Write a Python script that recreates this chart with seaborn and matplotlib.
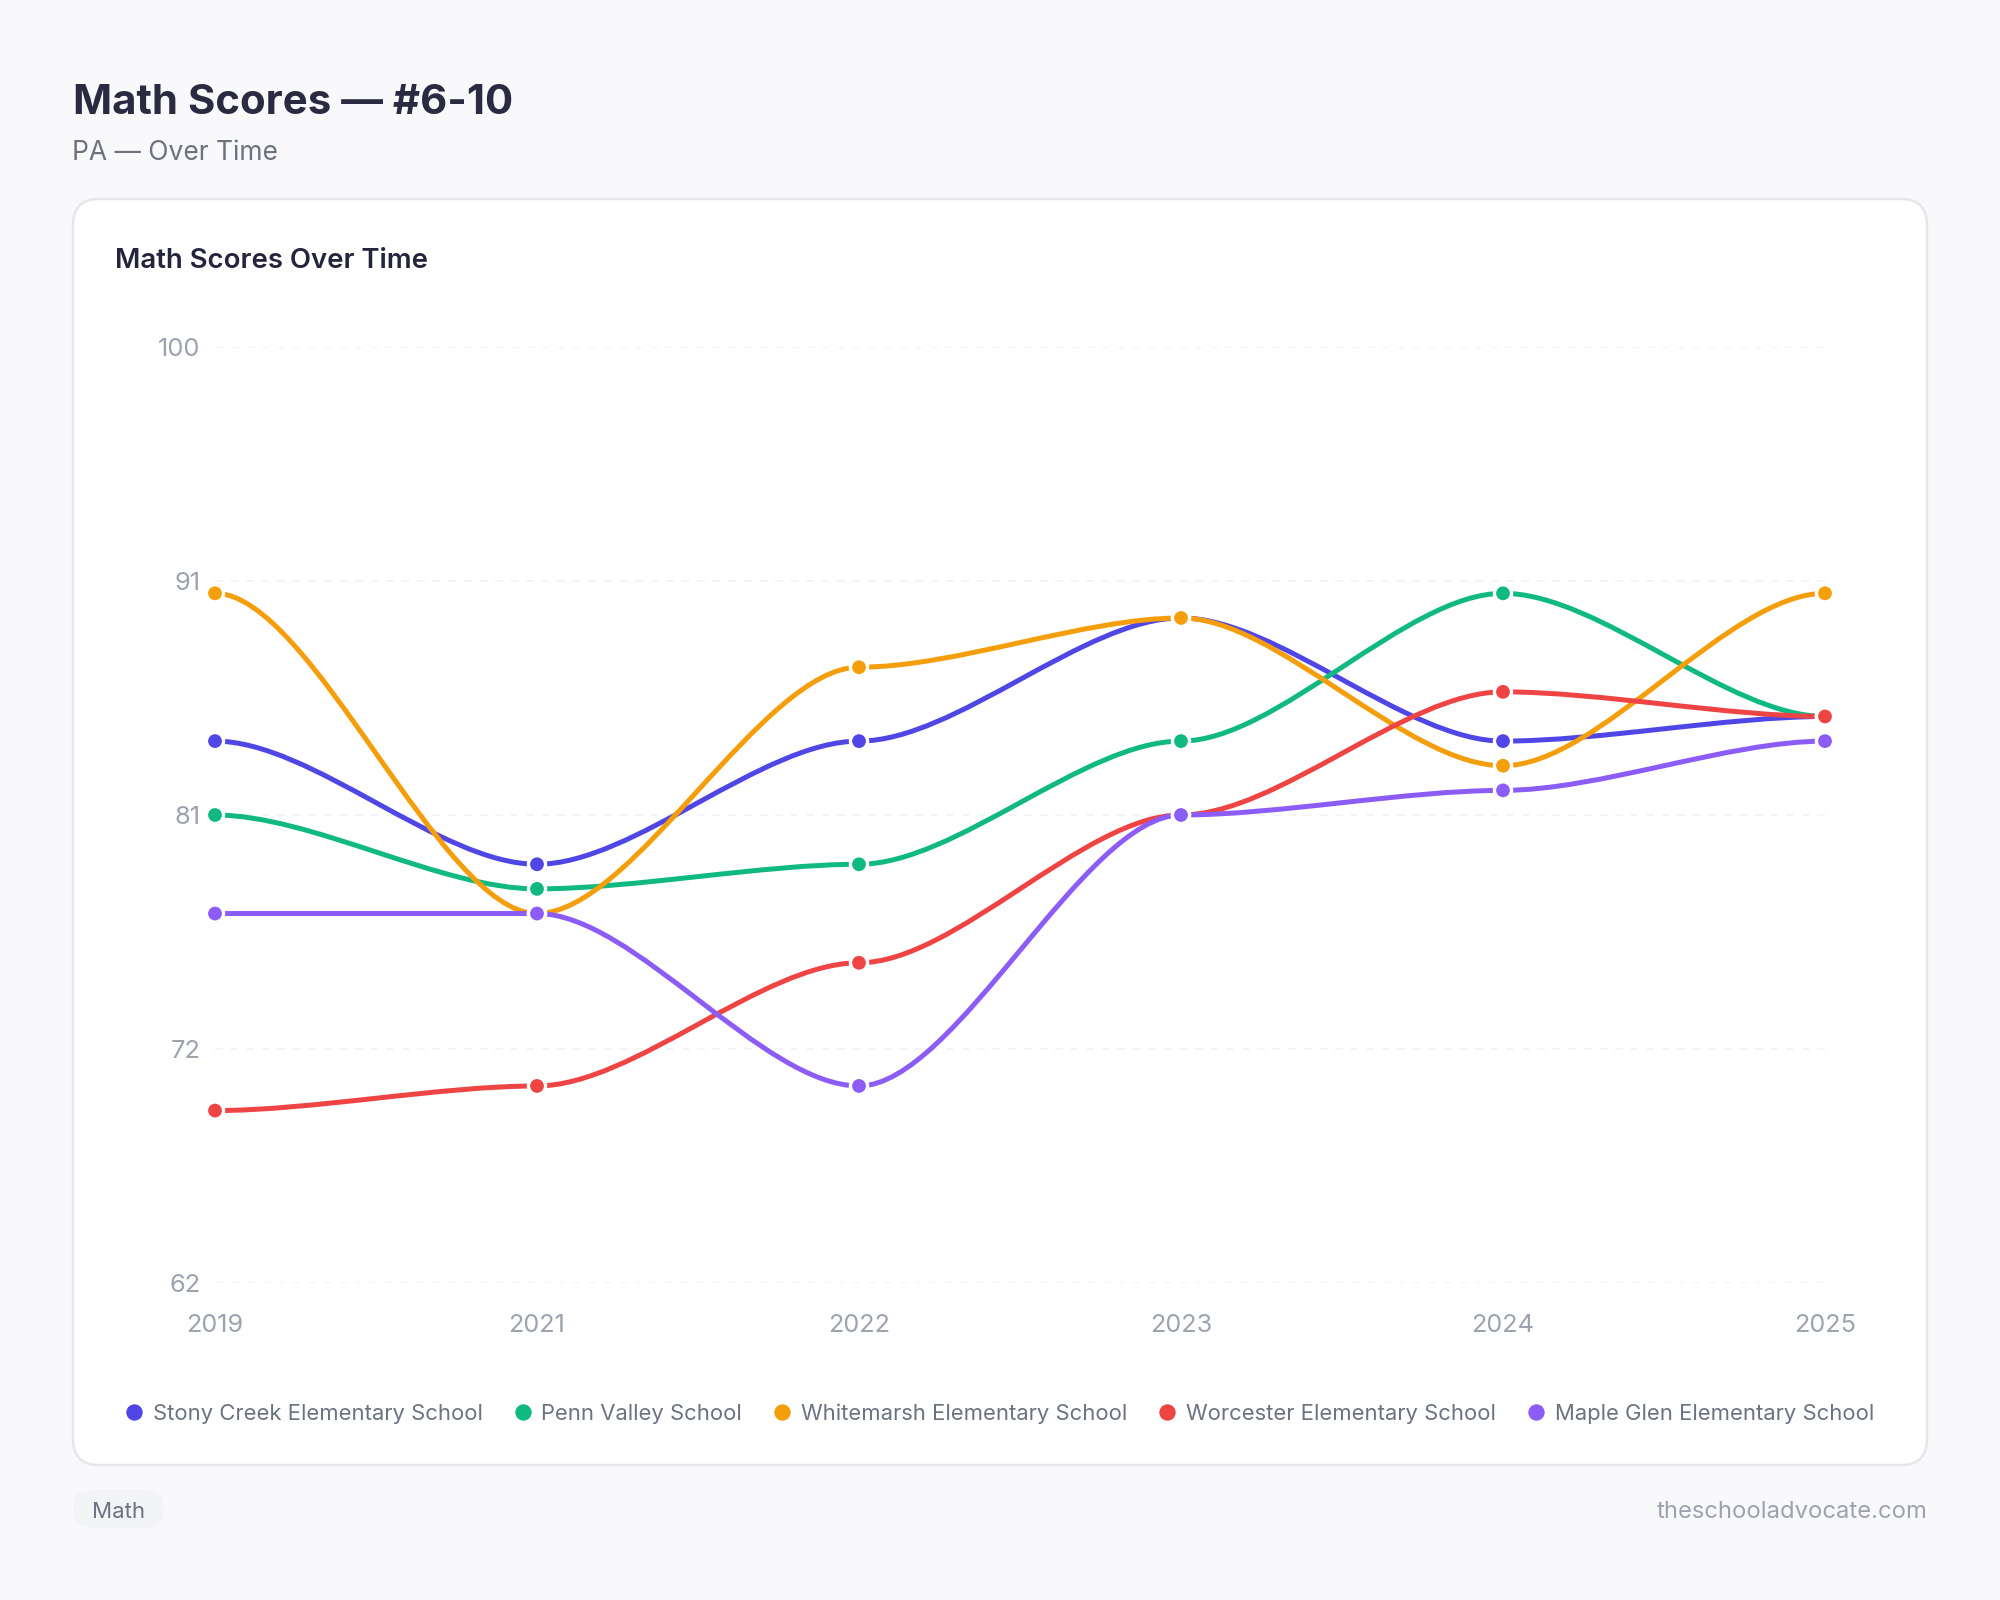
import pandas as pd
import matplotlib.pyplot as plt
import seaborn as sns
from matplotlib.lines import Line2D
from matplotlib.patches import FancyBboxPatch, PathPatch
from matplotlib.path import Path

# Data
years = ['2019', '2021', '2022', '2023', '2024', '2025']
stony_creek = [84, 79, 84, 89, 84, 85]
penn_valley = [81, 78, 79, 84, 90, 85]
whitemarsh = [90, 77, 87, 89, 83, 90]
worcester = [69, 70, 75, 81, 86, 85]
maple_glen = [77, 77, 70, 81, 82, 84]
schools = ['Stony Creek Elementary School', 'Penn Valley School',
           'Whitemarsh Elementary School', 'Worcester Elementary School',
           'Maple Glen Elementary School']
colors = ['#4f46e5', '#10b981', '#f59e0b', '#ef4444', '#8b5cf6']
y_ticks = [100, 90.5, 81, 71.5, 62]
y_tick_labels = ['100', '91', '81', '72', '62']

series = [stony_creek, penn_valley, whitemarsh, worcester, maple_glen]
df = pd.DataFrame({
    'year': years * len(schools),
    'score': sum(series, []),
    'school': [s for s in schools for _ in years],
})

W, H = 2000, 1600
BG = '#f9f9fb'

sns.set_style('white')
plt.rcParams['font.family'] = ['Inter', 'DejaVu Sans']
fig = plt.figure(figsize=(10, 8), dpi=200, facecolor=BG)


def px(x, y):
    return x / W, 1 - y / H


# card and tag pill, placed in pixels
card = FancyBboxPatch((73, H - 1465), 1854, 1266, boxstyle='round,pad=0,rounding_size=26',
                      transform=None, fc='white', ec='#e5e7eb', lw=0.9, zorder=0)
pill = FancyBboxPatch((73, H - 1528), 91, 38, boxstyle='round,pad=0,rounding_size=19',
                      transform=None, fc='#f3f4f6', ec='none', zorder=0)
fig.add_artist(card)
fig.add_artist(pill)

ax = fig.add_axes([215 / W, 1 - 1283 / H, (1825 - 215) / W, (1283 - 347) / H])
ax.patch.set_alpha(0)

sns.scatterplot(data=df, x='year', y='score', hue='school', palette=colors, hue_order=schools,
                s=38, linewidth=1.2, edgecolor='white', legend=False, zorder=5, clip_on=False, ax=ax)


# smooth line through the points, flat at every point
def curve_path(values, bend=0.3):
    verts = [(0, values[0])]
    codes = [Path.MOVETO]
    for i in range(len(values) - 1):
        verts += [(i + bend, values[i]), (i + 1 - bend, values[i + 1]), (i + 1, values[i + 1])]
        codes += [Path.CURVE4] * 3
    return Path(verts, codes)


for values, color in zip(series, colors):
    ax.add_patch(PathPatch(curve_path(values), fc='none', ec=color, lw=1.8, zorder=3,
                           clip_on=False, capstyle='round'))

ax.set_xlim(0, 5)
ax.set_ylim(62, 100)
ax.set_yticks(y_ticks, y_tick_labels)
ax.set_xlabel('')
ax.set_ylabel('')
ax.tick_params(axis='y', length=0, pad=5.2, labelsize=9.2, labelcolor='#9ca3af')
ax.tick_params(axis='x', length=0, pad=11, labelsize=9.1, labelcolor='#9ca3af')
ax.grid(axis='y', color='#f3f4f6', lw=0.7, ls=(0, (4, 4)))
ax.grid(axis='x', visible=False)
ax.set_axisbelow(True)
sns.despine(ax=ax, left=True, bottom=True)

handles = [Line2D([], [], ls='none', marker='o', ms=5.9, mfc=c, mew=0, label=s)
           for s, c in zip(schools, colors)]
ax.legend(handles=handles, ncol=5, frameon=False, fontsize=7.93, labelcolor='#6b7280',
          loc='center', bbox_to_anchor=(0.4866, -0.1395),
          handletextpad=0.35, columnspacing=1.32, handlelength=1.0, borderaxespad=0, borderpad=0)

# title block and footer
fig.text(*px(73, 103), 'Math Scores — #6-10', fontsize=15.1, fontweight='bold', color='#2a2a40', va='center')
fig.text(*px(72, 152.5), 'PA — Over Time', fontsize=9.5, color='#6b7280', va='center')
fig.text(*px(115, 260.5), 'Math Scores Over Time', fontsize=9.92, fontweight='semibold', color='#24243c', va='center')
fig.text(*px(92, 1512.5), 'Math', fontsize=8, color='#6b7280', va='center')
fig.text(*px(1928, 1511.5), 'theschooladvocate.com', fontsize=8.55, color='#9ca3af', va='center', ha='right')

fig.savefig('out.png', dpi=200, facecolor=BG)
